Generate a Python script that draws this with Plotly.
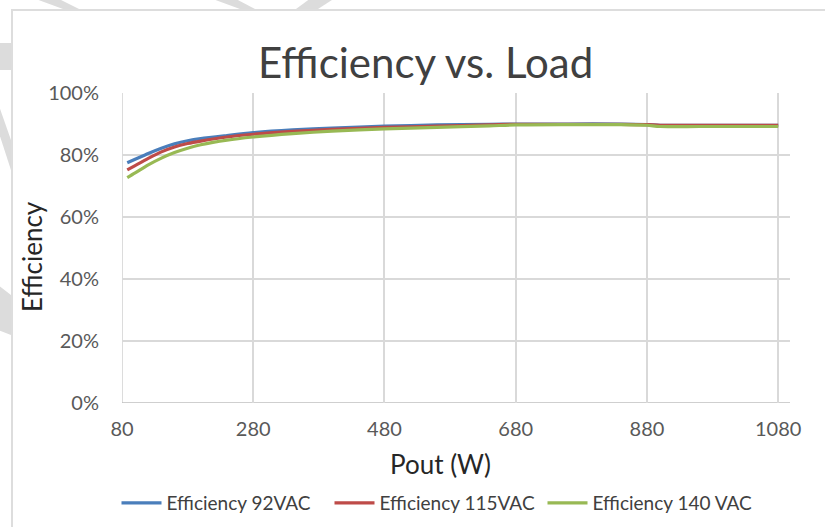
import plotly.graph_objects as go

pout = [88, 100, 120, 140, 160, 180, 200, 240, 280, 340, 400, 480, 560, 640, 680, 760, 840, 880, 900, 960, 1020, 1080]
eff_92 = [77.5, 78.6, 80.5, 82.2, 83.6, 84.6, 85.3, 86.3, 87.2, 88.1, 88.7, 89.3, 89.7, 89.9, 90.0, 90.0, 90.0, 89.8, 89.6, 89.6, 89.6, 89.6]
eff_115 = [75.2, 76.6, 78.9, 81.0, 82.6, 83.7, 84.5, 85.8, 86.7, 87.6, 88.3, 88.9, 89.3, 89.7, 89.9, 89.9, 89.9, 89.8, 89.6, 89.6, 89.6, 89.6]
eff_140 = [72.7, 74.2, 76.8, 79.0, 80.8, 82.2, 83.3, 84.8, 85.8, 86.9, 87.7, 88.4, 88.9, 89.4, 89.7, 89.8, 89.8, 89.6, 89.2, 89.2, 89.2, 89.2]

series = [
    ("Efficiency 92VAC", eff_92, "#4A7EBB"),
    ("Efficiency 115VAC", eff_115, "#BE4B48"),
    ("Efficiency 140 VAC", eff_140, "#98B954"),
]

x_ticks = [80, 280, 480, 680, 880, 1080]
y_ticks = [0, 20, 40, 60, 80, 100]
y_tick_labels = [f"{v}%" for v in y_ticks]

font_family = "Lato, 'Open Sans', sans-serif"

W, H = 825, 527
L, R, T, B = 122, 35, 93, 124
PW, PH = W - L - R, H - T - B


def px(x):
    return (x - L) / PW


def py(y):
    return (H - B - y) / PH


fig = go.Figure()
for name, vals, color in series:
    fig.add_trace(go.Scatter(
        x=pout, y=vals, name=name, mode="lines",
        line=dict(color=color, width=3.2, shape="spline", smoothing=0.8),
    ))

fig.update_layout(
    width=W, height=H,
    paper_bgcolor="white", plot_bgcolor="white",
    margin=dict(l=L, r=R, t=T, b=B, autoexpand=False),
    font=dict(family=font_family, color="#595959", size=20),
    showlegend=True,
    legend=dict(orientation="h", xref="container", yref="container",
                x=436 / W, xanchor="center", y=1 - 503 / H, yanchor="middle",
                font=dict(size=19, color="#404040"), itemwidth=40,
                entrywidth=158, entrywidthmode="pixels", tracegroupgap=0),
    xaxis=dict(range=[80, 1098], tickvals=x_ticks, ticktext=[str(v) for v in x_ticks],
               showgrid=True, gridcolor="#D9D9D9", gridwidth=1.5, zeroline=False,
               showline=False, ticks="", ticklabelstandoff=12, automargin=False),
    yaxis=dict(range=[0, 100], tickvals=y_ticks, ticktext=y_tick_labels,
               showgrid=True, gridcolor="#D9D9D9", gridwidth=1.5, zeroline=False,
               showline=False, ticks="", ticklabelstandoff=22, automargin=False),
)

# titles
fig.add_annotation(text="Efficiency vs. Load", xref="paper", yref="paper",
                   x=px(425), y=py(62), xanchor="center", yanchor="middle", showarrow=False,
                   font=dict(size=42, color="#404040", family=font_family))
fig.add_annotation(text="Pout (W)", xref="paper", yref="paper",
                   x=px(440), y=py(464), xanchor="center", yanchor="middle", showarrow=False,
                   font=dict(size=26, color="#262626", family=font_family))
fig.add_annotation(text="Efficiency", xref="paper", yref="paper", textangle=-90,
                   x=px(32), y=py(257), xanchor="center", yanchor="middle", showarrow=False,
                   font=dict(size=26, color="#262626", family=font_family))

# left gridline and bottom axis line
fig.add_shape(type="line", xref="x", yref="paper", x0=80, x1=80, y0=0, y1=1,
              line=dict(color="#D0D0D0", width=1.5), layer="below")
fig.add_shape(type="line", xref="paper", yref="y", x0=0, x1=1, y0=0, y1=0,
              line=dict(color="#BFBFBF", width=1.5), layer="below")

# faint watermark stripes outside the chart border
stripes = [
    [(33, -2), (57, -2), (79, 9), (63, 9)],
    [(210, -2), (234, -2), (255, 9), (240, 9)],
    [(311, -2), (335, -2), (318, 9), (296, 9)],
    [(-2, 43), (11, 43), (11, 70), (-2, 70)],
    [(-2, 103), (-2, 130), (11, 170), (11, 140)],
    [(-2, 285), (11, 295), (11, 335), (-2, 330)],
]
for poly in stripes:
    path = "M " + " L ".join(f"{px(a):.4f},{py(b):.4f}" for a, b in poly) + " Z"
    fig.add_shape(type="path", xref="paper", yref="paper", path=path,
                  fillcolor="#DCDCDC", line=dict(width=0), layer="below")

# outer chart border
fig.add_shape(type="rect", xref="paper", yref="paper", x0=px(12), x1=px(840), y0=py(560), y1=py(10),
              line=dict(color="#DDDDDD", width=2), fillcolor="rgba(0,0,0,0)", layer="below")

fig.write_html("out.html", config={"displayModeBar": False},
               post_script="document.body.style.margin='0px';")
